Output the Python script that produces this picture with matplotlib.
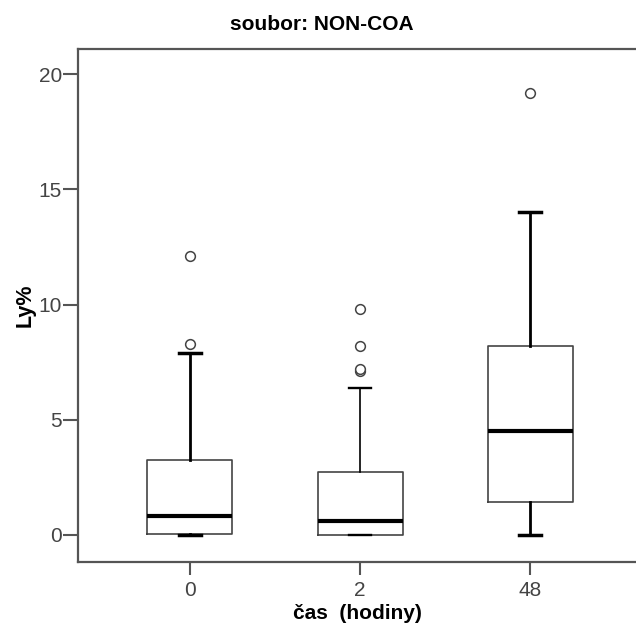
import matplotlib.pyplot as plt

plt.rcParams['font.family'] = ['Liberation Sans', 'DejaVu Sans']

categories = ['0', '2', '48']
whislo = [0.0, 0.0, 0.0]
q1 = [0.05, 0.0, 1.42]
med = [0.81, 0.6, 4.5]
q3 = [3.25, 2.75, 8.2]
whishi = [7.9, 6.4, 14.0]
outliers = [[8.3, 12.1], [7.1, 7.2, 8.2, 9.8], [19.2]]
whisker_lw = [2.0, 1.2, 2.0]

stats = []
for i, c in enumerate(categories):
    stats.append({'label': c, 'whislo': whislo[i], 'q1': q1[i], 'med': med[i],
                  'q3': q3[i], 'whishi': whishi[i], 'fliers': outliers[i]})

fig = plt.figure(figsize=(6.36, 6.32), dpi=100)
ax = fig.add_axes([0.1226, 0.111, 0.8774, 0.8115])

bp = ax.bxp(stats, positions=[1, 2, 3], widths=0.5, showfliers=True,
            boxprops=dict(color='#444444', linewidth=1.2),
            medianprops=dict(color='black', linewidth=3),
            capwidths=0.13,
            flierprops=dict(marker='o', markerfacecolor='white',
                            markeredgecolor='#444444', markersize=7,
                            markeredgewidth=1.1))
for i in range(3):
    for w in bp['whiskers'][2 * i:2 * i + 2]:
        w.set_color('black')
        w.set_linewidth(whisker_lw[i])
    for c in bp['caps'][2 * i:2 * i + 2]:
        c.set_color('black')
        c.set_linewidth(whisker_lw[i] + 0.5)

ax.set_xlim(0.343, 3.62)
ax.set_ylim(-1.17, 21.1)
ax.set_yticks([0, 5, 10, 15, 20])
ax.set_xticks([1, 2, 3])
ax.set_xticklabels(categories)

for s in ['left', 'top', 'bottom']:
    ax.spines[s].set_color('#555555')
    ax.spines[s].set_linewidth(1.6)
ax.spines['right'].set_visible(False)

ax.tick_params(axis='y', length=10.5, width=1.5, color='#555555',
               labelsize=15, labelcolor='#444444', pad=1)
ax.tick_params(axis='x', length=9.5, width=1.5, color='#555555',
               labelsize=15, labelcolor='#444444', pad=4)

ax.set_ylabel('Ly%', fontsize=15.5, fontweight='bold', labelpad=2)
ax.set_xlabel('čas  (hodiny)', fontsize=15, fontweight='bold', labelpad=3)
fig.text(0.506, 0.962, 'soubor: NON-COA', fontsize=15, fontweight='bold',
         ha='center', va='center')

fig.savefig('out.png', dpi=100)
